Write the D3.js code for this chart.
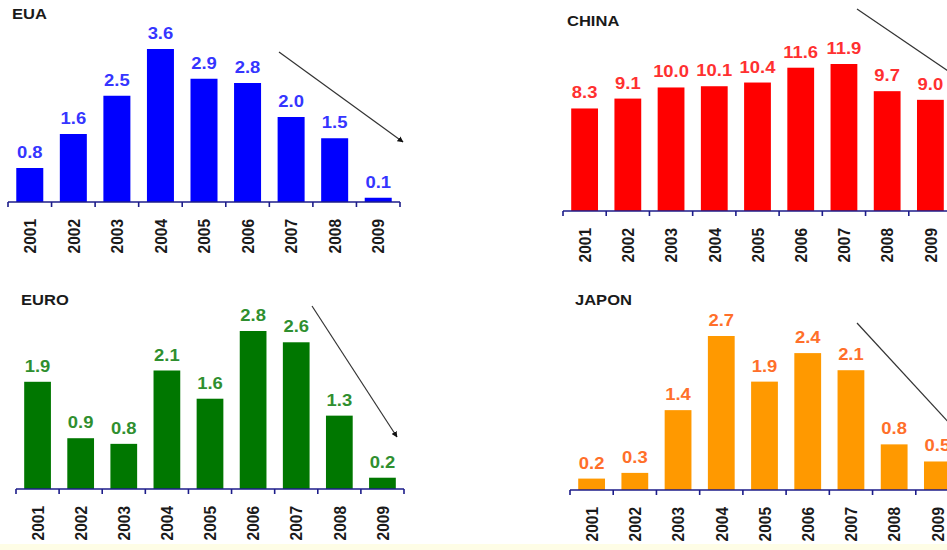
<!DOCTYPE html>
<html>
<head>
<meta charset="utf-8">
<script src="https://cdn.jsdelivr.net/npm/d3@7"></script>
<style>
  html, body { margin: 0; padding: 0; background: #fff; }
  svg { display: block; }
  text { font-family: "Liberation Sans", Arial, sans-serif; font-weight: bold; }
</style>
</head>
<body>
<svg id="chart"></svg>
<script>
// Data
const years = ["2001", "2002", "2003", "2004", "2005", "2006", "2007", "2008", "2009"];
const euaValues = [0.8, 1.6, 2.5, 3.6, 2.9, 2.8, 2.0, 1.5, 0.1];
const chinaValues = [8.3, 9.1, 10.0, 10.1, 10.4, 11.6, 11.9, 9.7, 9.0];
const euroValues = [1.9, 0.9, 0.8, 2.1, 1.6, 2.8, 2.6, 1.3, 0.2];
const japonValues = [0.2, 0.3, 1.4, 2.7, 1.9, 2.4, 2.1, 0.8, 0.5];
const panelTitles = ["EUA", "CHINA", "EURO", "JAPON"];

const width = 947, height = 550;
const svg = d3.select("#chart").attr("width", width).attr("height", height);

// light yellow strip at the bottom of the slide
svg.append("rect")
  .attr("x", 0).attr("y", 544)
  .attr("width", width).attr("height", height - 544)
  .style("fill", "#fefde6");

const defs = svg.append("defs");
defs.append("marker")
  .attr("id", "arrowHead")
  .attr("viewBox", "0 0 10 10")
  .attr("refX", 9).attr("refY", 5)
  .attr("markerWidth", 5).attr("markerHeight", 5)
  .attr("orient", "auto")
  .append("path")
  .attr("d", "M0,0L10,5L0,10z")
  .style("fill", "#111");

// layout for each panel (positions only)
const panels = [
  { title: panelTitles[0], values: euaValues, x0: 8, x1: 400, base: 202, top: 49, titleX: 12, titleY: 19,
    bar: "#0000ff", label: "#3535ff", arrow: [279, 52, 403, 142] },
  { title: panelTitles[1], values: chinaValues, x0: 563, x1: 952, base: 211, top: 64, titleX: 567, titleY: 26,
    bar: "#ff0000", label: "#ff3030", arrow: [857, 9, 1010, 113] },
  { title: panelTitles[2], values: euroValues, x0: 16, x1: 404, base: 489, top: 331, titleX: 21, titleY: 305,
    bar: "#007700", label: "#2f8f2f", arrow: [312, 306, 397, 437] },
  { title: panelTitles[3], values: japonValues, x0: 570, x1: 959, base: 490, top: 336, titleX: 575, titleY: 305,
    bar: "#ff9900", label: "#ff6f2a", arrow: [857, 323, 1000, 478] }
];

// stretch horizontal text a bit wider, like the source slide
function widen(sel, k) {
  sel.each(function () {
    const len = this.getComputedTextLength();
    d3.select(this).attr("textLength", len * k).attr("lengthAdjust", "spacingAndGlyphs");
  });
}

panels.forEach(p => {
  const g = svg.append("g");

  const x = d3.scaleBand()
    .domain(years)
    .range([p.x0, p.x1])
    .paddingInner(0.38)
    .paddingOuter(0.19);

  const y = d3.scaleLinear()
    .domain([0, d3.max(p.values)])
    .range([p.base, p.top]);

  const data = years.map((yr, i) => ({ year: yr, value: p.values[i] }));

  // bars
  g.selectAll(".bar")
    .data(data)
    .enter().append("rect")
    .attr("class", "bar")
    .attr("x", d => x(d.year))
    .attr("y", d => y(d.value))
    .attr("width", x.bandwidth())
    .attr("height", d => p.base - y(d.value))
    .style("fill", p.bar);

  // value labels
  g.selectAll(".val")
    .data(data)
    .enter().append("text")
    .attr("class", "val")
    .attr("x", d => x(d.year) + x.bandwidth() / 2)
    .attr("y", d => y(d.value) - 10)
    .attr("text-anchor", "middle")
    .style("font-size", "16px")
    .style("fill", p.label)
    .text(d => d.value.toFixed(1))
    .call(widen, 1.15);

  // axis line + ticks at band boundaries
  const step = x.step();
  const axis = g.append("g").style("stroke", "#1c1c8a").style("stroke-width", 1.6);
  axis.append("line")
    .attr("x1", p.x0).attr("x2", p.x1)
    .attr("y1", p.base).attr("y2", p.base);
  axis.selectAll(".tick")
    .data(d3.range(years.length + 1))
    .enter().append("line")
    .attr("x1", i => p.x0 + i * step).attr("x2", i => p.x0 + i * step)
    .attr("y1", p.base).attr("y2", p.base + 5);

  // year labels, rotated
  g.selectAll(".yr")
    .data(years)
    .enter().append("text")
    .attr("class", "yr")
    .attr("transform", d => `translate(${x(d) + x.bandwidth() / 2},${p.base + 17}) rotate(-90) scale(1,1.12)`)
    .attr("dy", "0.36em")
    .attr("text-anchor", "end")
    .style("font-size", "15.5px")
    .style("fill", "#1a1a1a")
    .text(d => d);

  // panel title
  g.append("text")
    .attr("x", p.titleX)
    .attr("y", p.titleY)
    .style("font-size", "14px")
    .style("fill", "#1a1a1a")
    .text(p.title)
    .call(widen, 1.18);

  // trend arrow
  g.append("line")
    .attr("x1", p.arrow[0]).attr("y1", p.arrow[1])
    .attr("x2", p.arrow[2]).attr("y2", p.arrow[3])
    .style("stroke", "#333")
    .style("stroke-width", 1.2)
    .attr("marker-end", "url(#arrowHead)");
});
</script>
</body>
</html>
